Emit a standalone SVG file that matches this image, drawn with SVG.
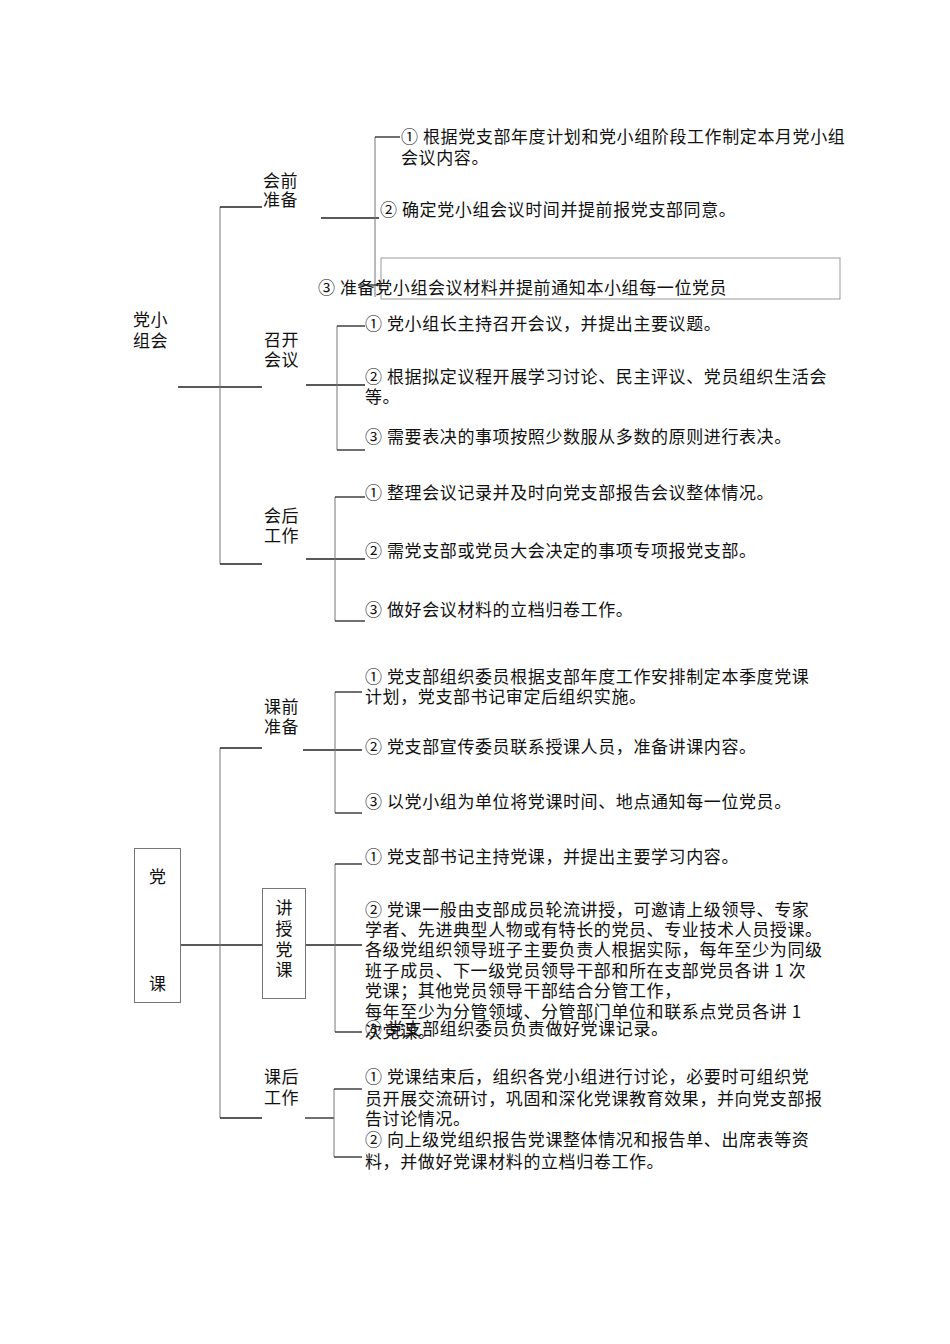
<svg xmlns="http://www.w3.org/2000/svg" width="950" height="1344" viewBox="0 0 950 1344">
<style>
text{font-family:"Noto Sans CJK SC","Liberation Serif",sans-serif;font-size:17px;fill:#111;letter-spacing:0.6px}
.h{stroke:#222;stroke-width:1.3;fill:none}
.v{stroke:#777;stroke-width:1;fill:none}
.box{fill:#fff;stroke:#777;stroke-width:1}
.c{text-anchor:middle;letter-spacing:0}
</style>
<rect width="950" height="1344" fill="#fff"/>
<g id="connectors">
<line class="h" x1="178" y1="387" x2="262" y2="387"/>
<line class="v" x1="220" y1="207" x2="220" y2="564"/>
<line class="h" x1="220" y1="207" x2="262" y2="207"/>
<line class="h" x1="220" y1="564" x2="262" y2="564"/>
<line class="h" x1="321" y1="218" x2="379" y2="218"/>
<line class="v" x1="375" y1="137" x2="375" y2="297" stroke="#999"/>
<line class="h" x1="375" y1="137" x2="400" y2="137"/>
<line class="h" x1="358" y1="285" x2="382" y2="285"/>
<line class="h" x1="306" y1="385" x2="365" y2="385"/>
<line class="v" x1="337" y1="326" x2="337" y2="450"/>
<line class="h" x1="337" y1="326" x2="365" y2="326"/>
<line class="h" x1="337" y1="450" x2="365" y2="450"/>
<line class="h" x1="306" y1="559" x2="365" y2="559"/>
<line class="v" x1="335" y1="497" x2="335" y2="621"/>
<line class="h" x1="335" y1="497" x2="365" y2="497"/>
<line class="h" x1="335" y1="621" x2="365" y2="621"/>
<line class="h" x1="181" y1="945" x2="262" y2="945"/>
<line class="v" x1="220" y1="748" x2="220" y2="1118"/>
<line class="h" x1="220" y1="748" x2="262" y2="748"/>
<line class="h" x1="220" y1="1118" x2="262" y2="1118"/>
<line class="h" x1="303" y1="750" x2="362" y2="750"/>
<line class="v" x1="335" y1="692" x2="335" y2="813"/>
<line class="h" x1="335" y1="692" x2="362" y2="692"/>
<line class="h" x1="335" y1="813" x2="362" y2="813"/>
<line class="h" x1="306" y1="945" x2="362" y2="945"/>
<line class="v" x1="335" y1="864" x2="335" y2="1032"/>
<line class="h" x1="335" y1="864" x2="362" y2="864"/>
<line class="h" x1="335" y1="1032" x2="362" y2="1032"/>
<line class="h" x1="305" y1="1118" x2="334" y2="1118"/>
<line class="v" x1="334" y1="1089" x2="334" y2="1157"/>
<line class="h" x1="334" y1="1089" x2="362" y2="1089"/>
<line class="h" x1="334" y1="1157" x2="362" y2="1157"/>
</g>
<g id="n-dangxiaozuhui"><text x="133" y="326">党小</text><text x="133" y="347">组会</text></g>
<g id="n-huiqian"><text x="263" y="187">会前</text><text x="263" y="206">准备</text></g>
<g id="n-huiqian-1"><text x="401" y="143">① 根据党支部年度计划和党小组阶段工作制定本月党小组</text><text x="401" y="164">会议内容。</text></g>
<g id="n-huiqian-2"><text x="380" y="216">② 确定党小组会议时间并提前报党支部同意。</text></g>
<g id="n-huiqian-3"><rect x="381" y="258" width="459" height="41" fill="none" stroke="#999" stroke-width="1"/><text x="318" y="294">③ 准备党小组会议材料并提前通知本小组每一位党员</text></g>
<g id="n-zhaokai"><text x="264" y="346">召开</text><text x="264" y="366">会议</text></g>
<g id="n-zhaokai-1"><text x="365" y="330">① 党小组长主持召开会议，并提出主要议题。</text></g>
<g id="n-zhaokai-2"><text x="365" y="383">② 根据拟定议程开展学习讨论、民主评议、党员组织生活会</text><text x="365" y="403">等。</text></g>
<g id="n-zhaokai-3"><text x="365" y="443">③ 需要表决的事项按照少数服从多数的原则进行表决。</text></g>
<g id="n-huihou"><text x="264" y="522">会后</text><text x="264" y="542">工作</text></g>
<g id="n-huihou-1"><text x="365" y="499">① 整理会议记录并及时向党支部报告会议整体情况。</text></g>
<g id="n-huihou-2"><text x="365" y="557">② 需党支部或党员大会决定的事项专项报党支部。</text></g>
<g id="n-huihou-3"><text x="365" y="616">③ 做好会议材料的立档归卷工作。</text></g>
<g id="n-dangke"><rect class="box" x="134.5" y="848.5" width="46" height="154"/><text class="c" x="157.5" y="883">党</text><text class="c" x="157.5" y="990">课</text></g>
<g id="n-keqian"><text x="264" y="713">课前</text><text x="264" y="733">准备</text></g>
<g id="n-keqian-1"><text x="365" y="683">① 党支部组织委员根据支部年度工作安排制定本季度党课</text><text x="365" y="703">计划，党支部书记审定后组织实施。</text></g>
<g id="n-keqian-2"><text x="365" y="753">② 党支部宣传委员联系授课人员，准备讲课内容。</text></g>
<g id="n-keqian-3"><text x="365" y="808">③ 以党小组为单位将党课时间、地点通知每一位党员。</text></g>
<g id="n-jiangshou"><rect class="box" x="262.5" y="888.5" width="43" height="110"/><text class="c" x="284" y="914">讲</text><text class="c" x="284" y="935">授</text><text class="c" x="284" y="956">党</text><text class="c" x="284" y="976">课</text></g>
<g id="n-jiangshou-1"><text x="365" y="863">① 党支部书记主持党课，并提出主要学习内容。</text></g>
<g id="n-jiangshou-2"><text x="365" y="916">② 党课一般由支部成员轮流讲授，可邀请上级领导、专家</text><text x="365" y="936">学者、先进典型人物或有特长的党员、专业技术人员授课。</text><text x="365" y="956">各级党组织领导班子主要负责人根据实际，每年至少为同级</text><text x="365" y="977">班子成员、下一级党员领导干部和所在支部党员各讲  1 次</text><text x="365" y="997">党课；其他党员领导干部结合分管工作，</text><text x="365" y="1018">每年至少为分管领域、分管部门单位和联系点党员各讲  1</text><text x="365" y="1038">次党课。</text></g>
<g id="n-jiangshou-3"><text x="365" y="1035">③ 党支部组织委员负责做好党课记录。</text></g>
<g id="n-kehou"><text x="264" y="1083">课后</text><text x="264" y="1104">工作</text></g>
<g id="n-kehou-1"><text x="365" y="1083">① 党课结束后，组织各党小组进行讨论，必要时可组织党</text><text x="365" y="1105">员开展交流研讨，巩固和深化党课教育效果，并向党支部报</text><text x="365" y="1125">告讨论情况。</text></g>
<g id="n-kehou-2"><text x="365" y="1146">② 向上级党组织报告党课整体情况和报告单、出席表等资</text><text x="365" y="1168">料，并做好党课材料的立档归卷工作。</text></g>
</svg>
